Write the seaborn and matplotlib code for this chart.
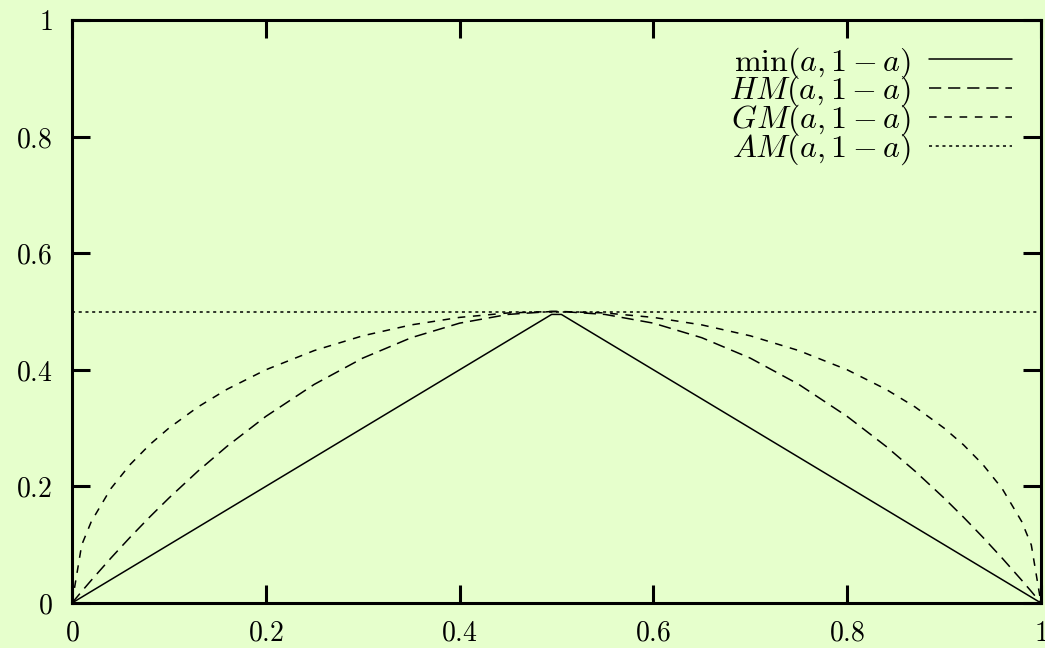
import matplotlib
import matplotlib.pyplot as plt
import pandas as pd
import seaborn as sns

matplotlib.use('Agg')

# sample points along a
a_vals = [0, 0.01, 0.02, 0.04, 0.06, 0.08, 0.1, 0.13, 0.16, 0.2, 0.25, 0.3, 0.35, 0.4, 0.45, 0.495,
          0.505, 0.55, 0.6, 0.65, 0.7, 0.75, 0.8, 0.84, 0.87, 0.9, 0.92, 0.94, 0.96, 0.98, 0.99, 1.0]
min_vals = [0, 0.01, 0.02, 0.04, 0.06, 0.08, 0.1, 0.13, 0.16, 0.2, 0.25, 0.3, 0.35, 0.4, 0.45, 0.495,
            0.495, 0.45, 0.4, 0.35, 0.3, 0.25, 0.2, 0.16, 0.13, 0.1, 0.08, 0.06, 0.04, 0.02, 0.01, 0]
hm_vals = [0, 0.0198, 0.0392, 0.0768, 0.1128, 0.1472, 0.18, 0.2262, 0.2688, 0.32, 0.375, 0.42, 0.455, 0.48, 0.495, 0.5,
           0.5, 0.495, 0.48, 0.455, 0.42, 0.375, 0.32, 0.2688, 0.2262, 0.18, 0.1472, 0.1128, 0.0768, 0.0392, 0.0198, 0]
gm_vals = [0, 0.0995, 0.14, 0.196, 0.2375, 0.2713, 0.3, 0.3363, 0.3666, 0.4, 0.433, 0.4583, 0.477, 0.4899, 0.4975, 0.5,
           0.5, 0.4975, 0.4899, 0.477, 0.4583, 0.433, 0.4, 0.3666, 0.3363, 0.3, 0.2713, 0.2375, 0.196, 0.14, 0.0995, 0]
am_vals = [0.5] * len(a_vals)

series_labels = [r'$\min(a, 1-a)$', r'$HM(a, 1-a)$', r'$GM(a, 1-a)$', r'$AM(a, 1-a)$']
tick_vals = [0, 0.2, 0.4, 0.6, 0.8, 1]
tick_labels = ['$0$', '$0.2$', '$0.4$', '$0.6$', '$0.8$', '$1$']

bg = '#e6ffcc'
sns.set_style('ticks')
plt.rcParams['mathtext.fontset'] = 'cm'
plt.rcParams['font.family'] = ['DejaVu Serif']
plt.rcParams['text.color'] = 'black'

df = pd.DataFrame({'a': a_vals, 'min': min_vals, 'hm': hm_vals, 'gm': gm_vals, 'am': am_vals})

fig, ax = plt.subplots(figsize=(10.45, 6.48), dpi=100)
fig.patch.set_facecolor(bg)
ax.set_facecolor(bg)
fig.subplots_adjust(left=72 / 1045, right=1041 / 1045, top=1 - 20 / 648, bottom=1 - 603 / 648)

styles = ['-', (0, (8, 4.5)), (0, (5, 5)), (0, (2, 2.4))]
for col, lab, ls in zip(['min', 'hm', 'gm', 'am'], series_labels, styles):
    sns.lineplot(data=df, x='a', y=col, ax=ax, color='black', linewidth=1.1,
                 linestyle=ls, label=lab, sort=False)

ax.set_xlim(0, 1)
ax.set_ylim(0, 1)
ax.set_xticks(tick_vals)
ax.set_xticklabels(tick_labels)
ax.set_yticks(tick_vals)
ax.set_yticklabels(tick_labels)
ax.set_xlabel('')
ax.set_ylabel('')
ax.tick_params(direction='in', length=13, width=2.2, labelsize=20,
               top=True, right=True, colors='black')
ax.tick_params(axis='x', pad=12)
ax.tick_params(axis='y', pad=14)
for s in ax.spines.values():
    s.set_linewidth(2.2)
    s.set_color('black')

leg = ax.legend(loc='upper right', bbox_to_anchor=(0.970, 0.957), borderaxespad=0, borderpad=0,
                frameon=False, markerfirst=False, fontsize=23, handlelength=2.6,
                handletextpad=0.56, labelspacing=-0.21)
for t in leg.get_texts():
    t.set_color('black')

plt.savefig('out.png', dpi=100, facecolor=bg)
